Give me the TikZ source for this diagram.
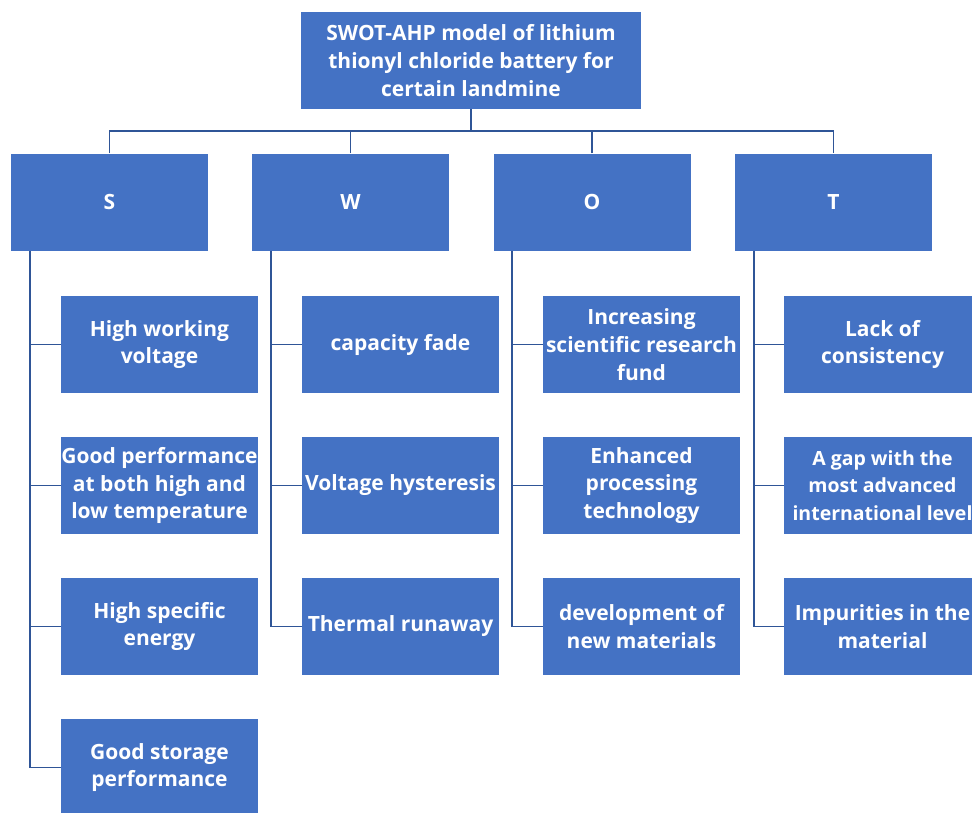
\documentclass[tikz,border=0pt]{standalone}
\usepackage{fontspec}
\setmainfont{Open Sans}
\usepackage{xcolor}
\usetikzlibrary{positioning}
\definecolor{boxblue}{HTML}{4472C4}
\definecolor{linkblue}{HTML}{2F5597}
\tikzset{box/.style={fill=boxblue,text=white,minimum width=197pt,minimum height=97pt,inner sep=0pt,align=center,font=\bfseries\fontsize{21}{27.8}\selectfont},
link/.style={draw=linkblue,line width=1.8pt}}

\begin{document}
\begin{tikzpicture}[x=1pt,y=-1pt]
\useasboundingbox(0,0)rectangle(972,812);
\clip(0,0)rectangle(972,812);
% root
\node[box,minimum width=340pt](root)at(471,60.5){SWOT-AHP model of lithium\\thionyl chloride battery for\\certain landmine};
\coordinate(bus)at(471,131);
% S W O T
\node[box](s)at(109.5,202){S};
\node[box](w)at(350.5,202){W};
\node[box](o)at(592,202){O};
\node[box](t)at(833.5,202){T};
% S
\node[box](s1)at(159.5,344.5){High working\\voltage};
\node[box](s2)at(159.5,485.5){Good performance\\at both high and\\low temperature};
\node[box](s3)at(159.5,626.5){High specific\\energy};
\node[box](s4)at(159.5,767.5){Good storage\\performance};
% W
\node[box](w1)at(400.5,344.5){capacity fade};
\node[box](w2)at(400.5,485.5){Voltage hysteresis};
\node[box](w3)at(400.5,626.5){Thermal runaway};
% O
\node[box](o1)at(641.5,344.5){Increasing\\scientific research\\fund};
\node[box](o2)at(641.5,485.5){Enhanced\\processing\\technology};
\node[box](o3)at(641.5,626.5){development of\\new materials};
% T
\node[box](t1)at(882.5,344.5){Lack of\\consistency};
\node[box,font=\bfseries\fontsize{19.5}{27.8}\selectfont](t2)at(882.5,485.5){A gap with the\\most advanced\\international level};
\node[box](t3)at(882.5,626.5){Impurities in the\\material};
% links to root
\draw[link](root.south)--(bus)
(s.north)|-(bus)-|(t.north)
(w.north)--(w.north|-bus)
(o.north)--(o.north|-bus);
% spines
\coordinate(sl)at([xshift=19pt]s.south west);
\coordinate(wl)at([xshift=19pt]w.south west);
\coordinate(ol)at([xshift=19pt]o.south west);
\coordinate(tl)at([xshift=19pt]t.south west);
\draw[link](sl)|-(s4.west)
(sl|-s1.west)--(s1.west)
(sl|-s2.west)--(s2.west)
(sl|-s3.west)--(s3.west);
\draw[link](wl)|-(w3.west)
(wl|-w1.west)--(w1.west)
(wl|-w2.west)--(w2.west);
\draw[link](ol)|-(o3.west)
(ol|-o1.west)--(o1.west)
(ol|-o2.west)--(o2.west);
\draw[link](tl)|-(t3.west)
(tl|-t1.west)--(t1.west)
(tl|-t2.west)--(t2.west);
\end{tikzpicture}
\end{document}
